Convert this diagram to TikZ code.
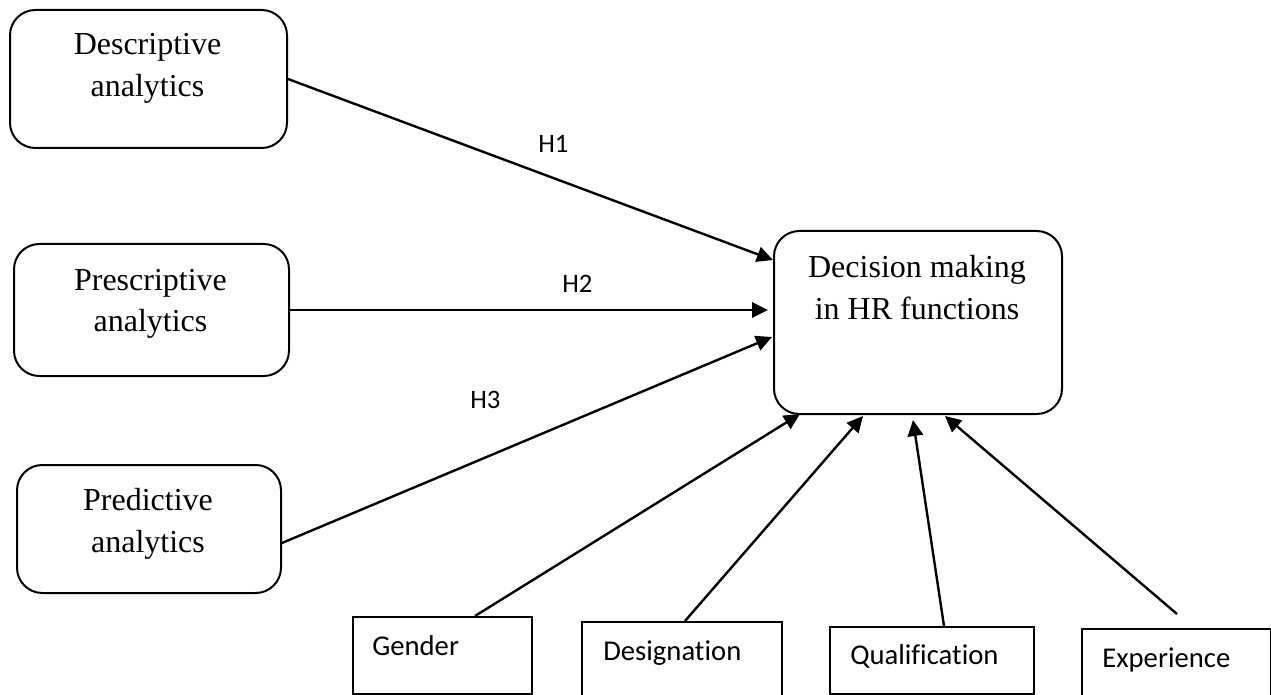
\documentclass[tikz,border=0pt]{standalone}
\usepackage{fontspec}
\setmainfont{Liberation Serif}
\newfontfamily\labelfont[Ligatures=NoCommon]{Carlito}
\usetikzlibrary{arrows.meta,calc}

\begin{document}
\begin{tikzpicture}[x=0.75pt,y=-0.75pt,
  rbox/.style={draw, line width=1.5pt, rounded corners=19pt, inner sep=0pt, anchor=north west},
  sbox/.style={draw, line width=1.5pt, inner sep=0pt, anchor=north west},
  bigtext/.style={font=\fontsize{24}{31.5}\selectfont, align=center, anchor=base, inner sep=0pt},
  smalltext/.style={font=\labelfont\fontsize{21.5}{26}\selectfont, anchor=base west, inner sep=0pt},
  hyp/.style={font=\labelfont\fontsize{20}{24}\selectfont, anchor=base west, inner sep=0pt},
  arr/.style={line width=1.8pt, -{Triangle[length=12pt, width=11.5pt]}}]

\useasboundingbox (0,0) rectangle (1271,695);

% analytics boxes on the left
\node[rbox, minimum width=207.75pt, minimum height=103.5pt] (desc) at (9,9) {};
\node[rbox, minimum width=206.25pt, minimum height=99pt] (pres) at (13,243) {};
\node[rbox, minimum width=198pt, minimum height=96pt] (pred) at (16,464) {};

% outcome box
\node[rbox, minimum width=216pt, minimum height=137.25pt] (dec) at (773,230) {};

% demographic boxes along the bottom
\node[sbox, minimum width=134.25pt, minimum height=57.75pt] (gender) at (352,616) {};
\node[sbox, minimum width=150pt, minimum height=60pt] (desig) at (581,621) {};
\node[sbox, minimum width=153pt, minimum height=50.25pt] (qual) at (829,626) {};
\node[sbox, minimum width=141.75pt, minimum height=56.25pt] (exper) at (1081,628) {};

% box texts (anchored on the baseline of the second line)
\node[bigtext] (descT) at (147.5,97) {Descriptive\\analytics};
\node[bigtext] (presT) at (150.5,332) {Prescriptive\\analytics};
\node[bigtext] (predT) at (148,552) {Predictive\\analytics};
\node[bigtext] (decT) at (917,320) {Decision making\\in HR functions};

\node[smalltext] (genderT) at (372,655) {Gender};
\node[smalltext] (desigT) at (603,660) {Designation};
\node[smalltext] (qualT) at (850,664) {Qualification};
\node[smalltext] (experT) at (1102,667) {Experience};

% hypothesis labels
\node[hyp] (h1) at (538,153) {H1};
\node[hyp] (h2) at (562,293) {H2};
\node[hyp] (h3) at (470,408) {H3};

% connectors
\draw[arr] (desc.east) -- ($(dec.north west)+(0,30)$);
\draw[arr] (pres.east) -- ($(dec.west |- pres.east)+(-5,0)$);
\draw[arr] ($(pred.east)+(0,14)$) -- ($(dec.north west)+(-1,107)$);

\coordinate (experEnd) at (1177,614);
\draw[arr] ($(gender.north west)+(123,0)$) -- ($(dec.south west)+(27,-1)$);
\draw[arr] ($(desig.north west)+(104,0)$) -- ($(dec.south west)+(90,1)$);
\draw[arr] ($(qual.north west)+(115,0)$) -- ($(dec.south west)+(140,5)$);
\draw[arr] (experEnd) -- ($(dec.south west)+(172,1)$);

\end{tikzpicture}
\end{document}
